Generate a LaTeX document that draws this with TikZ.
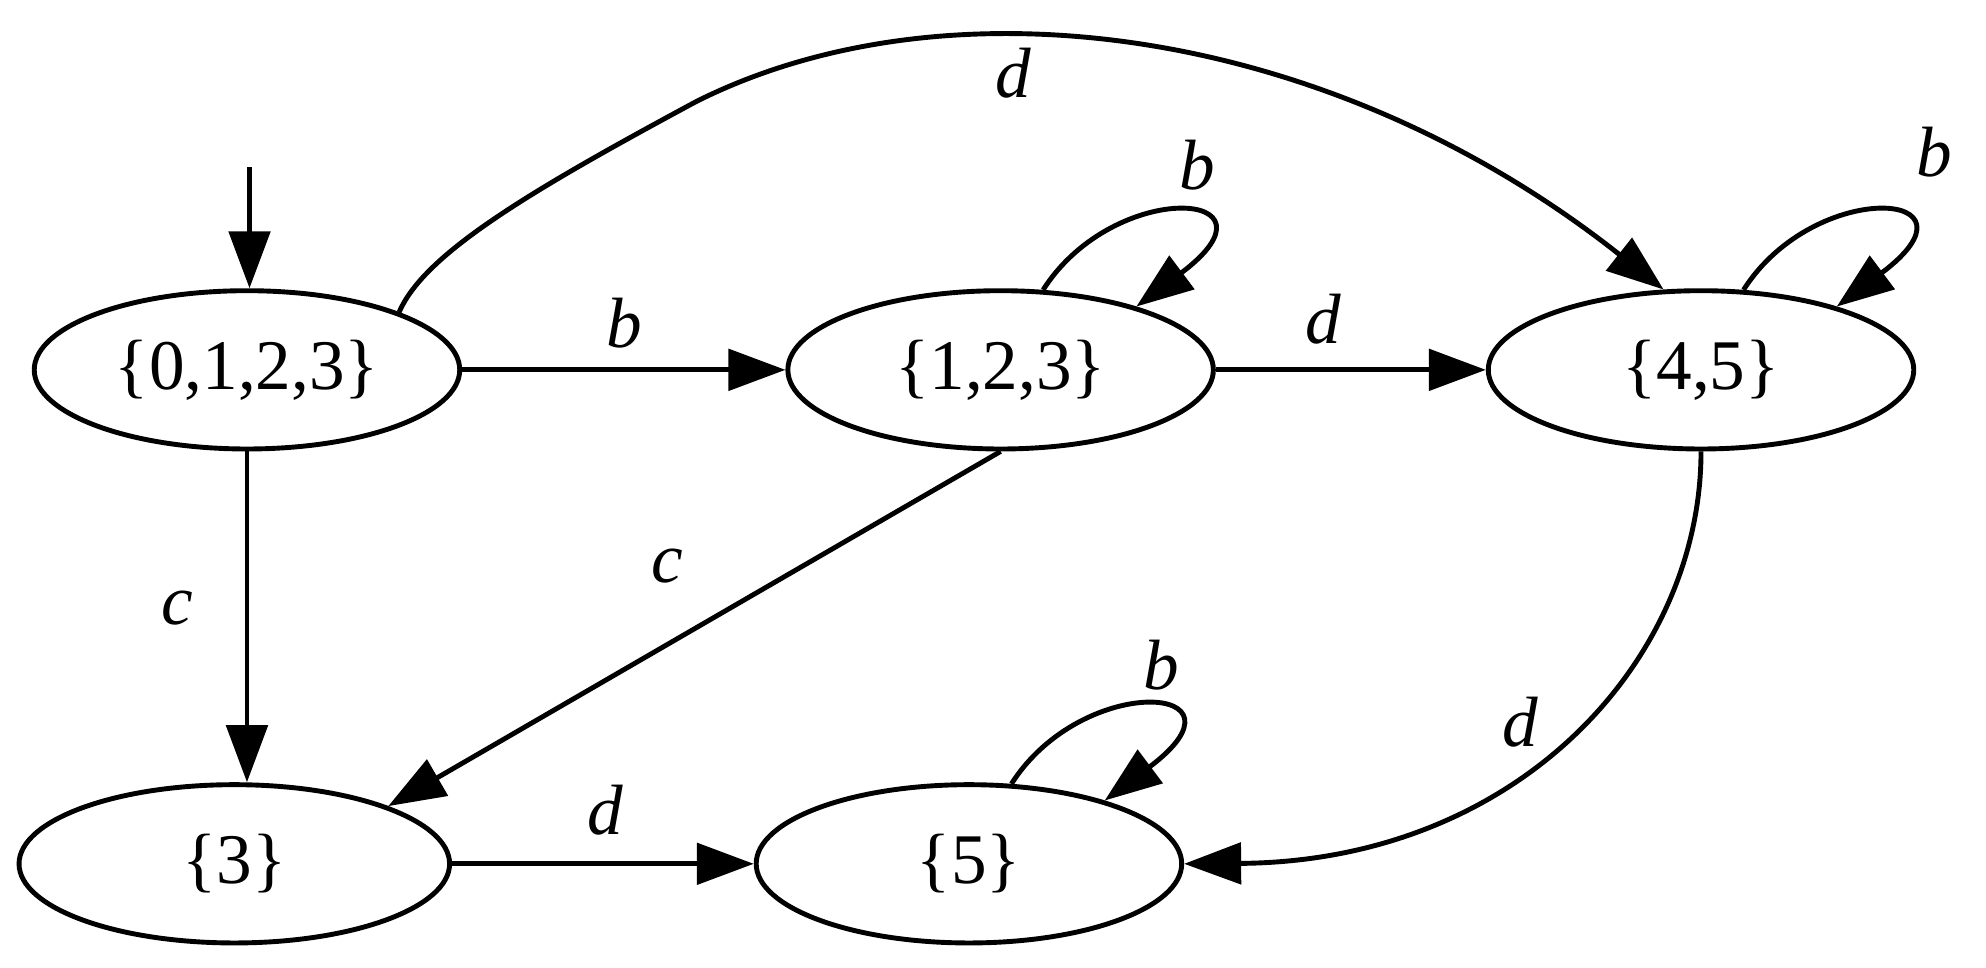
\documentclass[tikz,border=0pt]{standalone}
\usepackage{fontspec}
\setmainfont{Liberation Serif}
\usetikzlibrary{shapes.geometric,arrows.meta,calc}
\begin{document}
\begin{tikzpicture}[x=0.02cm,y=-0.02cm,
  st/.style={ellipse,draw,line width=2.2pt,minimum width=6.72cm,minimum height=2.5cm,inner sep=0pt,font=\fontsize{32}{36}\selectfont},
  tr/.style={line width=2.2pt,-{Triangle[length=0.9cm,width=0.65cm]}},
  lb/.style={font=\fontsize{32}{36}\selectfont\itshape}]
\useasboundingbox (0,0) rectangle (1568,764);
\node[st] (a) at (195,292) {\{0,1,2,3\}};
\node[st] (b) at (790,292) {\{1,2,3\}};
\node[st] (c) at (1343,292) {\{4,5\}};
\node[st,minimum width=6.8cm] (d) at (185,682) {\{3\}};
\node[st] (e) at (765,682) {\{5\}};
\coordinate (s) at (197,132);
\draw[tr] (s) -- (a.north -| s);
\draw[tr] (a.east) -- (b.west);
\node[lb] at (493,255) {b};
\draw[tr] (b.east) -- (c.west);
\node[lb] at (1045,252) {d};
\draw[tr] (a.south) -- (d.north -| a.south);
\node[lb] at (140,480) {c};
\draw[tr] (b.south) -- (d.north east);
\node[lb] at (527,447) {c};
\draw[tr] (d.east) -- (e.west);
\node[lb] at (478,640) {d};
\draw[tr] (c.south) .. controls (1343,520) and (1200,680) .. (e.east);
\node[lb] at (1200,570) {d};
\draw[tr] (a.north east) .. controls (335,200) and (420,150) .. (550,80)
  .. controls (750,-20) and (1050,20) .. (c.115);
\node[lb] at (800,58) {d};
\draw[tr] (b.62) .. controls (880,140) and (1020,150) .. (b.25);
\node[lb] at (945,130) {b};
\draw[tr] (c.62) .. controls (1433,140) and (1573,150) .. (c.25);
\node[lb] at (1527,120) {b};
\draw[tr] (e.62) .. controls (855,530) and (995,540) .. (e.25);
\node[lb] at (917,525) {b};
\end{tikzpicture}
\end{document}
